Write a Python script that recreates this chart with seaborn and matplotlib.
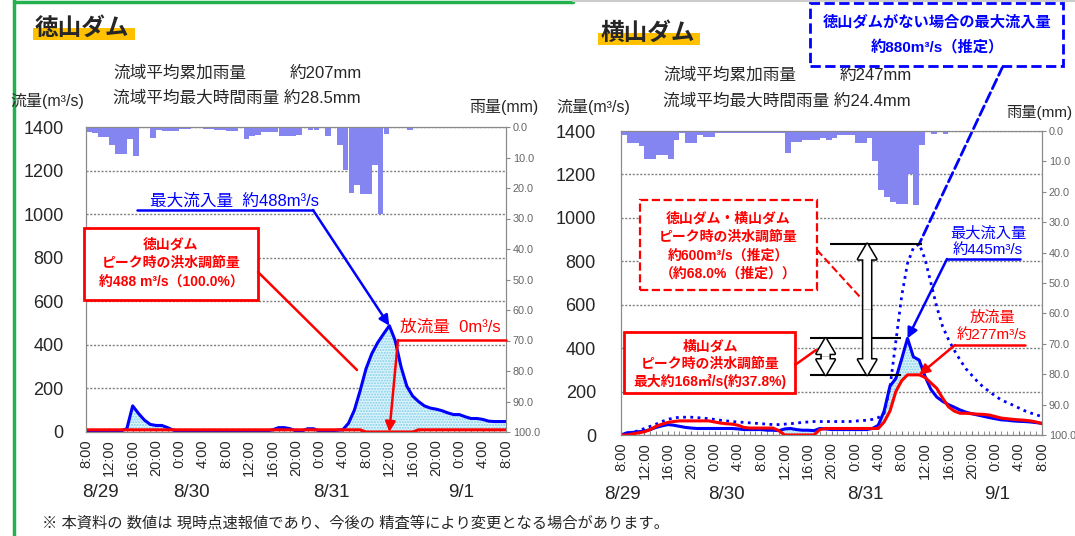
import numpy as np
import pandas as pd
import matplotlib
matplotlib.use('Agg')
import matplotlib.pyplot as plt
import seaborn as sns
from matplotlib.patches import Rectangle, FancyArrowPatch
from matplotlib.lines import Line2D

sns.set_style('white')
plt.rcParams['font.family'] = ['Liberation Sans', 'Noto Sans CJK JP']
plt.rcParams['hatch.linewidth'] = 1.0

# hourly, 8/29 8:00 -> 9/1 8:00
hours = np.arange(73)
tick_hours = np.arange(0, 73, 4)
tick_labels = ['8:00', '12:00', '16:00', '20:00', '0:00', '4:00', '8:00', '12:00', '16:00', '20:00',
               '0:00', '4:00', '8:00', '12:00', '16:00', '20:00', '0:00', '4:00', '8:00']
date_labels = ['8/29', '8/30', '8/31', '9/1']
flow_ticks = np.arange(0, 1401, 200)
rain_ticks = np.arange(0, 101, 10)
rain_labels = ['0.0', '10.0', '20.0', '30.0', '40.0', '50.0', '60.0', '70.0', '80.0', '90.0', '100.0']

# 徳山ダム
toku_inflow = [5, 5, 5, 5, 5, 5, 5, 15, 120, 85,
               55, 35, 30, 30, 20, 8, 5, 5, 5, 5,
               5, 5, 3, 0, 0, 0, 3, 3, 0, 0,
               5, 5, 10, 20, 20, 15, 5, 5, 15, 15,
               5, 5, 5, 8, 10, 40, 100, 190, 290, 360,
               410, 450, 488, 420, 300, 210, 165, 140, 120, 110,
               105, 98, 88, 80, 80, 70, 62, 62, 58, 50,
               48, 48, 48]
toku_outflow = [10, 10, 10, 10, 10, 10, 10, 10, 10, 10,
                10, 10, 10, 10, 10, 10, 10, 10, 10, 10,
                10, 10, 10, 10, 10, 10, 10, 10, 10, 10,
                10, 10, 10, 10, 10, 10, 10, 10, 10, 10,
                10, 10, 10, 10, 10, 10, 10, 10, 0, 0,
                0, 0, 0, 0, 0, 0, 0, 10, 10, 10,
                10, 10, 10, 10, 10, 10, 10, 10, 10, 10,
                10, 10, 10]
toku_rain = [1.5, 2, 3.3, 3.3, 6, 9, 9, 4, 9.4, 0,
             0, 3.5, 1, 1.3, 1.3, 1.3, 0.5, 0.8, 0, 0,
             0.8, 0.8, 1, 1, 1.2, 1.2, 0, 4, 3, 2.5,
             1.5, 1.5, 1.5, 3, 3, 3, 2.5, 0, 1, 1,
             0, 3, 0, 6, 14, 21.7, 19, 22, 22, 12.3,
             28.5, 2.4, 0, 0, 0, 1, 0, 0, 0, 0,
             0, 0, 0, 0, 0, 0, 0, 0, 0, 0,
             0, 0]

# 横山ダム
yoko_inflow = [0, 10, 12, 15, 18, 25, 35, 42, 48, 45,
               40, 35, 32, 30, 30, 30, 30, 30, 30, 30,
               28, 25, 25, 25, 25, 22, 22, 20, 28, 30,
               25, 22, 22, 20, 30, 28, 25, 25, 25, 25,
               25, 25, 25, 30, 45, 110, 225, 260, 350, 445,
               360, 345, 270, 210, 175, 155, 140, 128, 115, 105,
               98, 92, 86, 80, 75, 70, 68, 65, 63, 62,
               60, 57, 54]
yoko_outflow = [0, 0, 5, 10, 15, 25, 40, 50, 58, 62,
                65, 65, 65, 65, 65, 65, 60, 55, 52, 50,
                45, 35, 32, 32, 32, 32, 32, 20, 0, 0,
                0, 0, 0, 0, 25, 30, 30, 30, 30, 30,
                30, 30, 30, 30, 30, 60, 110, 200, 250, 277,
                277, 277, 265, 240, 215, 170, 130, 110, 100, 100,
                98, 96, 95, 92, 85, 78, 75, 72, 70, 68,
                65, 60, 52]
yoko_nodam = [0, 5, 12, 20, 30, 40, 50, 62, 72, 78,
              82, 82, 82, 80, 78, 75, 72, 68, 65, 62,
              60, 58, 56, 54, 52, 50, 48, 48, 50, 52,
              55, 58, 60, 62, 62, 62, 62, 62, 62, 62,
              64, 66, 68, 72, 80, 100, 220, 430, 640, 790,
              862, 880, 810, 700, 590, 500, 440, 390, 345, 305,
              275, 245, 220, 200, 180, 162, 150, 138, 125, 112,
              102, 93, 85]
yoko_rain = [1.3, 4, 4, 5, 9.3, 9.3, 8, 8, 9.3, 3,
             0.8, 4, 4, 1.3, 1.9, 1.9, 0.5, 0.5, 0.5, 0.5,
             0.5, 0.5, 0.5, 0.5, 0.5, 0.5, 0.5, 0.5, 7.4, 3.5,
             3.5, 3, 3, 3, 2.4, 3, 2.2, 1.3, 1.3, 1.3,
             4, 4, 2.4, 10, 19.5, 21.7, 23.3, 24, 24, 14.3,
             24.4, 4.6, 0, 1, 0, 1, 0, 0, 0, 0,
             0, 0, 0, 0, 0, 0, 0, 0, 0, 0,
             0, 0]

W, H = 1075, 536
RED = '#ff0000'
BLUE = '#0000ff'


def fp(x, y):
    # pixel position (from top-left) -> figure fraction
    return (x / W, 1 - y / H)


def fline(p0, p1, color, lw=1.8, ls='-'):
    (x0, y0), (x1, y1) = fp(*p0), fp(*p1)
    fig.add_artist(Line2D([x0, x1], [y0, y1], color=color, lw=lw, ls=ls, zorder=4))


def fbox(x0, y0, x1, y1, color, lw=2, ls='-'):
    fig.add_artist(Rectangle(fp(x0, y1), (x1 - x0) / W, (y1 - y0) / H, transform=fig.transFigure,
                             facecolor='white', edgecolor=color, lw=lw, ls=ls, zorder=3))


def ftext(x, y, s, **kw):
    kw.setdefault('va', 'center')
    kw.setdefault('zorder', 5)
    fig.text(*fp(x, y), s, **kw)


def draw_panel(ax, inflow, outflow, rain, date_pos, ypad):
    df = pd.DataFrame({'hour': hours, 'inflow': inflow, 'outflow': outflow})
    inf = np.array(inflow)
    out = np.array(outflow)
    ax.fill_between(hours, out, inf, where=inf > out, interpolate=True,
                    facecolor='#dff4fc', hatch='......', edgecolor='#80cfe8', linewidth=0, zorder=1)
    sns.lineplot(data=df, x='hour', y='inflow', ax=ax, color=BLUE, linewidth=2.2, zorder=3)
    sns.lineplot(data=df, x='hour', y='outflow', ax=ax, color=RED, linewidth=2.2, zorder=4)
    ax.set_xlim(0, 72)
    ax.set_ylim(0, 1400)
    ax.set_xlabel('')
    ax.set_ylabel('')
    ax.set_yticks(flow_ticks)
    ax.set_axisbelow(True)
    ax.yaxis.grid(True, ls=(0, (1.5, 1.2)), color='#808080', lw=1)
    ax.set_xticks(tick_hours)
    ax.set_xticklabels(tick_labels, rotation=90, fontsize=10.5)
    ax.set_xticks(hours, minor=True)
    ax.tick_params(axis='x', which='both', direction='in', length=3, color='#777777', pad=5, bottom=True)
    ax.tick_params(axis='y', labelsize=13, length=0, pad=ypad)
    for s in ax.spines.values():
        s.set_color('#8a8a8a')
    for lab, pos in zip(date_labels, date_pos):
        ax.text(pos, -0.197, lab, transform=ax.get_xaxis_transform(), ha='center', va='center', fontsize=13.5)

    ax2 = ax.twinx()
    ax2.bar(hours[:-1], rain, width=1, align='edge', color='#8585f2', linewidth=0)
    ax2.set_ylim(100, 0)
    ax2.set_yticks(rain_ticks)
    ax2.set_yticklabels(rain_labels)
    ax2.tick_params(axis='y', labelsize=7.8, labelcolor='#666666', length=3, color='#888888', pad=2)
    for s in ax2.spines.values():
        s.set_color('#8a8a8a')
    return ax2


def double_arrow(ax, x, y0, y1):
    # hollow double-headed arrow: outlined pass, then a fill pass to hide the seam
    ym = (y0 + y1) / 2
    style = 'simple,head_length=0.85,head_width=1.0,tail_width=0.42'
    for ec, lw in [('black', 2.2), ('none', 0)]:
        for end in (y0, y1):
            ax.add_patch(FancyArrowPatch((x, ym), (x, end), arrowstyle=style, mutation_scale=13,
                                         fc='white', ec=ec, lw=lw, shrinkA=0, shrinkB=0, zorder=6))


fig = plt.figure(figsize=(10.75, 5.36), dpi=100)
axL = fig.add_axes([86 / W, 1 - 432 / H, 420 / W, 305 / H])
axR = fig.add_axes([621 / W, 1 - 435 / H, 421 / W, 304 / H])

draw_panel(axL, toku_inflow, toku_outflow, toku_rain, [2.5, 18, 42, 64.3], 16)
draw_panel(axR, yoko_inflow, yoko_outflow, yoko_rain, [0.3, 18, 41.8, 64.3], 18)

# dotted: inflow without 徳山ダム
sns.lineplot(x=hours, y=yoko_nodam, ax=axR, color=BLUE, linewidth=2, linestyle=(0, (1, 1.6)), zorder=2)
axR.set_xlabel('')
axR.set_ylabel('')

# frame
fig.add_artist(Line2D([14 / W, 14 / W], [0, 1], color='#22b14c', lw=2.5))
fig.add_artist(Line2D([14 / W, 573 / W], [1 - 1.5 / H, 1 - 1.5 / H], color='#22b14c', lw=2.5))
fig.add_artist(Line2D([573 / W, 1], [1 - 1 / H, 1 - 1 / H], color='#cccccc', lw=1.5))

# titles
for (x, y), name in [((35, 28), '徳山ダム'), ((600, 33), '横山ダム')]:
    fig.add_artist(Rectangle(fp(x - 2, y + 12), 102 / W, 12 / H, transform=fig.transFigure,
                             facecolor='#ffc000', edgecolor='none', zorder=1))
    ftext(x, y, name, fontsize=17, weight='bold')

# rainfall summary and axis titles
ftext(113, 73, '流域平均累加雨量', fontsize=12)
ftext(290, 73, '約207mm', fontsize=12)
ftext(113, 98, '流域平均最大時間雨量 約28.5mm', fontsize=12)
ftext(663, 75, '流域平均累加雨量', fontsize=12)
ftext(840, 75, '約247mm', fontsize=12)
ftext(663, 101, '流域平均最大時間雨量 約24.4mm', fontsize=12)
ftext(10, 101, '流量(m³/s)', fontsize=11.5)
ftext(469, 107, '雨量(mm)', fontsize=11.5)
ftext(556, 107, '流量(m³/s)', fontsize=11.5)
ftext(1072, 113, '雨量(mm)', fontsize=11, ha='right')

# 徳山ダム annotations
pk = int(np.argmax(toku_inflow))
ftext(150, 201, '最大流入量  約488m³/s', fontsize=12, color=BLUE)
fline((137, 210), (313, 210), BLUE)
axL.annotate('', xy=(hours[pk], toku_inflow[pk]), xytext=fp(313, 210), textcoords='figure fraction',
             arrowprops=dict(arrowstyle='-|>', color=BLUE, lw=1.8, mutation_scale=15, shrinkA=0, shrinkB=0))
fbox(84, 228, 258, 300, RED)
ftext(171, 244, '徳山ダム', fontsize=10, color=RED, ha='center', weight='bold')
ftext(171, 263, 'ピーク時の洪水調節量', fontsize=10, color=RED, ha='center', weight='bold')
ftext(171, 283, '約488 m³/s（100.0%）', fontsize=10, color=RED, ha='center', weight='bold')
fline((258, 272), (357, 370), RED)
ftext(400, 327, '放流量  0m³/s', fontsize=12, color=RED)
fline((398, 340), (506, 340), RED)
axL.annotate('', xy=(hours[pk], toku_outflow[pk]), xytext=fp(398, 340), textcoords='figure fraction',
             arrowprops=dict(arrowstyle='-|>', color=RED, lw=1.8, mutation_scale=15, shrinkA=0, shrinkB=0))

# 横山ダム annotations
pk_in = int(np.argmax(yoko_inflow))
pk_nd = int(np.argmax(yoko_nodam))
pk_out = max(yoko_outflow)
pk_out_end = int(np.where(np.array(yoko_outflow) == pk_out)[0][-1])

axR.hlines(yoko_nodam[pk_nd], 35.7, 51.5, color='black', lw=1.5, zorder=5)
axR.hlines(yoko_inflow[pk_in], 32.4, 47.9, color='black', lw=1.5, zorder=5)
axR.hlines(pk_out, 32.4, 47.9, color='black', lw=1.5, zorder=5)
double_arrow(axR, 42.1, pk_out, yoko_nodam[pk_nd])
double_arrow(axR, 35.0, pk_out, yoko_inflow[pk_in])

fbox(810, 3, 1063, 66, BLUE, lw=2, ls='--')
ftext(937, 22, '徳山ダムがない場合の最大流入量', fontsize=11, color=BLUE, ha='center', weight='bold')
ftext(937, 47, '約880m³/s（推定）', fontsize=11, color=BLUE, ha='center', weight='bold')
axR.annotate('', xy=(hours[pk_nd], yoko_nodam[pk_nd]), xytext=fp(1003, 66), textcoords='figure fraction',
             arrowprops=dict(arrowstyle='-', color=BLUE, lw=2, ls='--', shrinkA=0, shrinkB=0))

fbox(640, 200, 817, 290, RED, lw=1.6, ls='--')
ftext(728, 218, '徳山ダム・横山ダム', fontsize=10, color=RED, ha='center', weight='bold')
ftext(728, 237, 'ピーク時の洪水調節量', fontsize=10, color=RED, ha='center', weight='bold')
ftext(728, 256, '約600m³/s（推定）', fontsize=10, color=RED, ha='center', weight='bold')
ftext(728, 274, '（約68.0%（推定））', fontsize=10, color=RED, ha='center', weight='bold')
fline((817, 250), (860, 297), RED, lw=1.5, ls='--')

fbox(624, 332, 795, 393, RED)
ftext(710, 347, '横山ダム', fontsize=10, color=RED, ha='center', weight='bold')
ftext(710, 364, 'ピーク時の洪水調節量', fontsize=10, color=RED, ha='center', weight='bold')
ftext(710, 381, '最大約168㎥/s(約37.8%)', fontsize=10, color=RED, ha='center', weight='bold')
fline((795, 365), (816, 350), RED)

ftext(988, 233, '最大流入量', fontsize=11, color=BLUE, ha='center')
ftext(988, 250, '約445m³/s', fontsize=11, color=BLUE, ha='center')
fline((947, 259), (1020, 259), BLUE)
axR.annotate('', xy=(hours[pk_in], yoko_inflow[pk_in]), xytext=fp(947, 259), textcoords='figure fraction',
             arrowprops=dict(arrowstyle='-|>', color=BLUE, lw=1.8, mutation_scale=15, shrinkA=0, shrinkB=0))

ftext(992, 318, '放流量', fontsize=11, color=RED, ha='center')
ftext(992, 335, '約277m³/s', fontsize=11, color=RED, ha='center')
fline((955, 345), (1025, 345), RED)
axR.annotate('', xy=(hours[pk_out_end], pk_out), xytext=fp(955, 345), textcoords='figure fraction',
             arrowprops=dict(arrowstyle='-|>', color=RED, lw=1.8, mutation_scale=15, shrinkA=0, shrinkB=0))

ftext(42, 523, '※ 本資料の 数値は 現時点速報値であり、今後の 精査等により変更となる場合があります。', fontsize=11)

fig.savefig('out.png', dpi=100)
